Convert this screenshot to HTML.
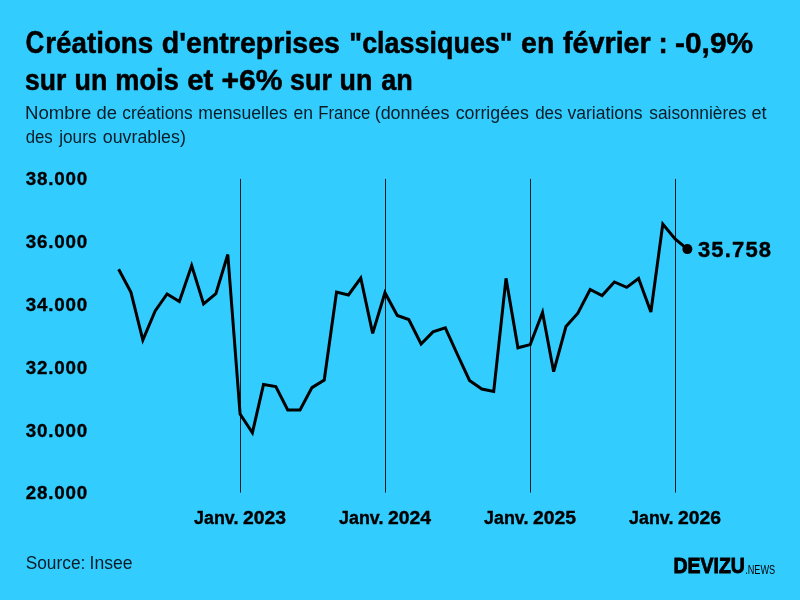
<!DOCTYPE html>
<html lang="fr">
<head>
<meta charset="utf-8">
<title>Créations d'entreprises "classiques" en février</title>
<style>
html,body{margin:0;padding:0;background:#33ccff;}
body{width:800px;height:600px;overflow:hidden;}
svg{display:block;}
text{font-family:"Liberation Sans",sans-serif;fill:#000;white-space:pre;}
.ti{font-weight:700;font-size:30.2px;stroke:#000;stroke-width:0.5px;}
.t2{font-weight:700;font-size:29.4px;stroke:#000;stroke-width:0.5px;}
.su{font-size:17.5px;fill:#081c26;}
.ay{font-weight:700;font-size:18.8px;stroke:#000;stroke-width:0.3px;}
.ax{font-weight:700;font-size:17.5px;stroke:#000;stroke-width:0.35px;}
.va{font-weight:700;font-size:22px;stroke:#000;stroke-width:0.4px;}
.lg{font-weight:700;font-size:22px;stroke:#000;stroke-width:0.9px;}
.nw{font-size:12px;}
</style>
</head>
<body>
<svg width="800" height="600" viewBox="0 0 800 600">
<rect width="800" height="600" fill="#33ccff"/>
<text class="ti" y="52.6"><tspan x="25.41" textLength="18.76" lengthAdjust="spacingAndGlyphs" font-size="31.0">C</tspan><tspan x="45.33" textLength="107.89" lengthAdjust="spacingAndGlyphs">réations</tspan> <tspan x="161.80" textLength="178.19" lengthAdjust="spacingAndGlyphs">d'entreprises</tspan> <tspan x="349.36" textLength="163.26" lengthAdjust="spacingAndGlyphs">"classiques"</tspan> <tspan x="521.05" textLength="33.31" lengthAdjust="spacingAndGlyphs">en</tspan> <tspan x="563.00" textLength="87.76" lengthAdjust="spacingAndGlyphs">février</tspan> <tspan x="658.62" textLength="9.21" lengthAdjust="spacingAndGlyphs">:</tspan> <tspan x="675.06" textLength="78.03" lengthAdjust="spacingAndGlyphs">-0,9%</tspan></text>
<text class="t2" y="90.3"><tspan x="25.05" textLength="41.30" lengthAdjust="spacingAndGlyphs">sur</tspan> <tspan x="74.54" textLength="32.78" lengthAdjust="spacingAndGlyphs">un</tspan> <tspan x="115.33" textLength="63.44" lengthAdjust="spacingAndGlyphs">mois</tspan> <tspan x="187.25" textLength="26.09" lengthAdjust="spacingAndGlyphs">et</tspan> <tspan x="221.43" textLength="60.96" lengthAdjust="spacingAndGlyphs">+6%</tspan> <tspan x="290.09" textLength="41.76" lengthAdjust="spacingAndGlyphs">sur</tspan> <tspan x="339.54" textLength="32.78" lengthAdjust="spacingAndGlyphs">un</tspan> <tspan x="381.25" textLength="31.58" lengthAdjust="spacingAndGlyphs">an</tspan></text>
<text class="su" y="118.7"><tspan x="24.93" textLength="66.35" lengthAdjust="spacingAndGlyphs">Nombre</tspan> <tspan x="96.50" textLength="20.47" lengthAdjust="spacingAndGlyphs">de</tspan> <tspan x="122.30" textLength="70.25" lengthAdjust="spacingAndGlyphs">créations</tspan> <tspan x="198.29" textLength="89.26" lengthAdjust="spacingAndGlyphs">mensuelles</tspan> <tspan x="293.50" textLength="19.48" lengthAdjust="spacingAndGlyphs">en</tspan> <tspan x="318.34" textLength="52.06" lengthAdjust="spacingAndGlyphs">France</tspan> <tspan x="374.67" textLength="74.87" lengthAdjust="spacingAndGlyphs">(données</tspan> <tspan x="455.70" textLength="73.25" lengthAdjust="spacingAndGlyphs">corrigées</tspan> <tspan x="535.20" textLength="27.36" lengthAdjust="spacingAndGlyphs">des</tspan> <tspan x="567.50" textLength="75.05" lengthAdjust="spacingAndGlyphs">variations</tspan> <tspan x="649.25" textLength="97.20" lengthAdjust="spacingAndGlyphs">saisonnières</tspan> <tspan x="751.50" textLength="15.16" lengthAdjust="spacingAndGlyphs">et</tspan></text>
<text class="su" y="142.7"><tspan x="25.70" textLength="27.06" lengthAdjust="spacingAndGlyphs">des</tspan> <tspan x="59.23" textLength="37.32" lengthAdjust="spacingAndGlyphs">jours</tspan> <tspan x="102.80" textLength="83.04" lengthAdjust="spacingAndGlyphs">ouvrables)</tspan></text>
<text class="ay" y="185.4"><tspan x="25.75" letter-spacing="0.780">38.000</tspan></text>
<text class="ay" y="248.2"><tspan x="25.75" letter-spacing="0.780">36.000</tspan></text>
<text class="ay" y="311.0"><tspan x="25.75" letter-spacing="0.780">34.000</tspan></text>
<text class="ay" y="373.8"><tspan x="25.75" letter-spacing="0.780">32.000</tspan></text>
<text class="ay" y="436.6"><tspan x="25.75" letter-spacing="0.780">30.000</tspan></text>
<text class="ay" y="499.4"><tspan x="25.75" letter-spacing="0.780">28.000</tspan></text>
<text class="ax" y="524.2"><tspan x="194.08" textLength="44.33" lengthAdjust="spacingAndGlyphs">Janv.</tspan> <tspan x="242.98" textLength="43.05" lengthAdjust="spacingAndGlyphs">2023</tspan></text>
<text class="ax" y="524.2"><tspan x="339.07" textLength="44.33" lengthAdjust="spacingAndGlyphs">Janv.</tspan> <tspan x="387.98" textLength="43.05" lengthAdjust="spacingAndGlyphs">2024</tspan></text>
<text class="ax" y="524.2"><tspan x="484.07" textLength="44.33" lengthAdjust="spacingAndGlyphs">Janv.</tspan> <tspan x="532.97" textLength="43.05" lengthAdjust="spacingAndGlyphs">2025</tspan></text>
<text class="ax" y="524.2"><tspan x="629.07" textLength="44.33" lengthAdjust="spacingAndGlyphs">Janv.</tspan> <tspan x="677.97" textLength="43.05" lengthAdjust="spacingAndGlyphs">2026</tspan></text>
<text class="su" y="568.6"><tspan x="25.70" textLength="59.65" lengthAdjust="spacingAndGlyphs">Source:</tspan> <tspan x="89.50" textLength="42.99" lengthAdjust="spacingAndGlyphs">Insee</tspan></text>
<text class="va" y="257.2"><tspan x="697.90" letter-spacing="1.169">35.758</tspan></text>
<text class="lg" y="573.2"><tspan x="673.57" textLength="71.37" lengthAdjust="spacingAndGlyphs">DEVIZU</tspan></text>
<text class="nw" y="573.5"><tspan x="745.24" textLength="29.96" lengthAdjust="spacingAndGlyphs">.NEWS</tspan></text>
<g stroke="#000" stroke-width="1" opacity="0.85">
<line x1="240.5" y1="178.9" x2="240.5" y2="492.6"/>
<line x1="385.5" y1="178.9" x2="385.5" y2="492.6"/>
<line x1="530.5" y1="178.9" x2="530.5" y2="492.6"/>
<line x1="675.5" y1="178.9" x2="675.5" y2="492.6"/>
</g>
<polyline fill="none" stroke="#000" stroke-width="3" stroke-linejoin="miter" stroke-miterlimit="3.9" points="118.65,269.2 130.95,292.4 142.86,340.0 155.16,311.0 167.07,294.0 179.37,301.6 191.68,265.5 203.59,304.0 215.89,293.6 227.80,254.5 240.10,414.0 252.40,432.7 263.52,384.4 275.82,386.6 287.73,410.0 300.03,410.0 311.94,387.6 324.24,380.0 336.55,292.0 348.45,295.0 360.76,278.0 372.66,333.4 384.97,292.7 397.27,315.5 408.78,319.5 421.09,344.0 432.99,331.9 445.30,327.9 457.20,354.0 469.51,380.5 481.81,389.0 493.72,391.4 506.02,278.3 517.93,347.8 530.23,344.6 542.54,312.5 553.65,371.7 565.95,326.5 577.86,313.2 590.16,289.5 602.07,295.6 614.37,282.0 626.68,287.4 638.59,278.5 650.89,312.0 662.80,224.0 675.10,239.0 687.40,249.1"/>
<circle cx="687.40" cy="249.1" r="5" fill="#000"/>
</svg>
</body>
</html>
